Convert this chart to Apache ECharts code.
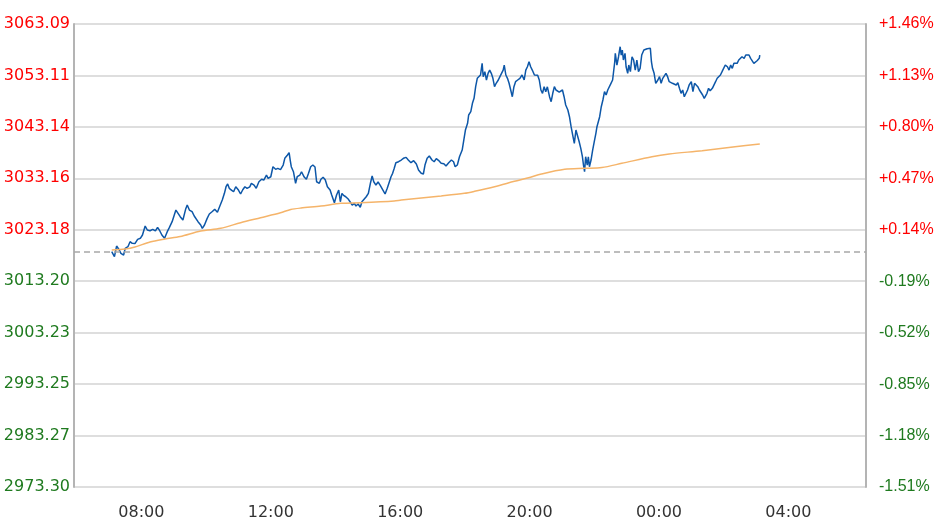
<!DOCTYPE html>
<html>
<head>
<meta charset="utf-8">
<title>分时走势</title>
<script src="https://cdn.jsdelivr.net/npm/echarts@6/dist/echarts.min.js"></script>
<style>
  html, body { margin: 0; padding: 0; background: #fff; }
  #chart { width: 942px; height: 527px; }
</style>
</head>
<body>
<div id="chart"></div>
<script>
// 时间：从第一天 00:00 起的分钟数（跨过午夜后继续累加）
const times = [
  425,430,434,439,442,447,450,455,459,463,
  468,473,478,482,487,491,496,501,506,510,
  514,518,523,528,532,537,541,544,548,552,
  557,562,565,569,574,578,581,585,590,593,
  597,602,606,611,616,621,625,630,634,637,
  640,643,647,651,655,660,664,668,672,676,
  681,684,689,693,698,703,707,712,715,720,
  724,729,733,738,743,746,751,754,756,758,
  762,766,769,774,777,782,786,790,794,798,
  802,805,810,813,817,821,825,830,833,838,
  842,846,849,852,855,859,864,867,871,875,
  878,882,886,889,892,897,901,905,908,911,
  915,919,923,928,932,936,940,943,946,949,
  952,957,962,966,971,975,980,985,990,994,
  999,1003,1006,1010,1014,1019,1023,1027,1031,1036,
  1041,1045,1050,1055,1059,1062,1066,1070,1075,1078,
  1081,1085,1087,1091,1094,1097,1100,1103,1106,1109,
  1112,1114,1117,1120,1123,1126,1129,1132,1135,1138,
  1142,1145,1148,1151,1153,1156,1159,1162,1165,1168,
  1171,1174,1178,1182,1186,1190,1193,1196,1199,1202,
  1205,1209,1212,1215,1218,1221,1224,1227,1230,1233,
  1237,1240,1243,1246,1249,1252,1255,1258,1261,1264,
  1267,1271,1274,1277,1280,1283,1286,1289,1292,1295,
  1298,1300,1302,1304,1307,1309,1311,1314,1317,1320,
  1323,1325,1330,1333,1336,1339,1342,1345,1348,1351,
  1354,1358,1359,1362,1365,1368,1370,1372,1374,1377,
  1379,1382,1384,1387,1390,1393,1396,1399,1402,1405,
  1408,1412,1414,1418,1421,1424,1426,1428,1431,1434,
  1438,1441,1444,1447,1450,1453,1456,1459,1462,1465,
  1468,1472,1475,1478,1481,1484,1487,1490,1493,1496,
  1500,1503,1506,1509,1512,1515,1518,1521,1524,1526,
  1529,1532,1535,1539,1542,1545,1548,1551,1554,1557,
  1560,1563,1567,1570,1573,1576,1579,1582,1585,1588,
  1591,1594,1598,1601,1604,1607,1610,1613,1616,1619,
  1622,1626,1627
];

// 价格
const prices = [
  3018.93,3017.96,3020.03,3019.26,3018.62,3018.29,3019.59,3019.90,3020.87,3020.56,
  3020.50,3021.33,3021.53,3022.17,3023.91,3023.14,3023.00,3023.27,3022.95,3023.66,
  3023.00,3022.17,3021.53,3022.81,3023.66,3024.75,3026.05,3027.01,3026.37,3025.72,
  3025.08,3027.15,3027.98,3027.01,3026.69,3025.85,3026.05,3024.75,3024.11,3023.47,
  3024.11,3025.40,3026.24,3026.69,3027.15,3026.60,3027.65,3028.95,3030.25,3031.53,
  3032.06,3031.22,3030.89,3030.56,3031.53,3030.89,3030.12,3030.95,3031.53,3031.22,
  3031.50,3032.19,3031.86,3031.22,3032.50,3032.97,3032.83,3033.80,3033.16,3033.47,
  3035.41,3034.91,3035.10,3034.85,3035.74,3037.04,3037.68,3038.13,3036.71,3035.41,
  3034.44,3032.19,3033.47,3033.80,3034.44,3033.40,3032.97,3034.13,3035.41,3035.74,
  3035.35,3032.50,3032.19,3032.97,3033.36,3032.90,3031.53,3030.89,3029.92,3028.43,
  3029.92,3030.89,3028.62,3030.25,3029.85,3029.59,3029.09,3028.62,3027.98,3028.31,
  3027.79,3028.18,3027.54,3028.62,3028.31,3029.59,3030.25,3032.31,3033.61,3032.50,
  3031.86,3032.45,3031.80,3030.89,3030.12,3031.22,3032.50,3033.47,3034.13,3035.10,
  3036.19,3036.38,3036.71,3037.04,3037.23,3036.71,3036.19,3036.58,3035.93,3034.77,
  3034.13,3034.00,3035.74,3037.04,3037.49,3036.71,3036.38,3036.98,3036.65,3036.07,
  3036.00,3035.55,3036.19,3036.71,3036.38,3035.41,3035.74,3037.35,3038.65,3040.59,
  3042.53,3043.83,3045.44,3046.08,3047.71,3048.68,3050.93,3052.56,3052.23,3053.20,
  3055.46,3052.87,3053.84,3052.23,3053.52,3054.16,3053.52,3052.56,3050.93,3051.59,
  3052.23,3052.87,3053.52,3054.16,3055.13,3053.20,3052.56,3051.59,3050.29,3048.99,
  3050.93,3051.90,3052.23,3052.56,3053.20,3052.23,3054.16,3054.80,3055.77,3054.80,
  3054.16,3053.20,3052.87,3053.15,3052.23,3050.29,3049.65,3050.93,3049.96,3050.90,
  3048.99,3048.02,3049.65,3050.93,3050.29,3049.96,3049.90,3049.65,3050.29,3048.99,
  3047.38,3046.41,3045.11,3043.17,3041.56,3039.95,3042.53,3042.86,3040.26,3038.98,
  3037.35,3035.74,3034.44,3037.35,3035.74,3037.35,3035.41,3036.71,3038.65,3040.26,
  3041.89,3043.17,3045.11,3047.05,3048.35,3049.96,3049.32,3050.29,3049.96,3051.59,
  3052.23,3055.77,3057.40,3055.13,3056.74,3058.68,3057.07,3058.04,3056.10,3057.40,
  3054.80,3053.52,3055.13,3053.84,3056.74,3056.10,3054.16,3056.10,3053.84,3054.49,
  3057.07,3058.04,3058.37,3058.30,3058.68,3058.37,3055.77,3054.49,3053.52,3051.59,
  3052.23,3052.87,3051.59,3052.56,3052.23,3053.52,3052.87,3051.90,3052.23,3051.59,
  3051.90,3051.26,3051.70,3050.62,3049.65,3050.29,3048.99,3049.32,3050.29,3051.26,
  3051.90,3049.96,3051.59,3051.90,3050.93,3050.29,3050.62,3049.32,3048.68,3048.35,
  3049.65,3050.62,3050.15,3050.62,3050.29,3051.90,3052.56,3052.87,3053.20,3053.84,
  3054.16,3055.13,3054.80,3054.16,3055.13,3054.49,3055.46,3055.77,3055.46,3056.10,
  3056.05,3056.74,3056.43,3057.07,3056.74,3057.07,3056.43,3056.10,3055.46,3055.77,
  3055.97,3056.43,3057.07
];

// 均价线
const avgTimes = [
  425,450,468,496,524,552,590,627,664,701,738,757,776,813,850,887,949,962,
  999,1036,1079,1098,1135,1172,1198,1222,1265,1302,1334,1371,1427,1459,1520,1581,1627
];
const avgPrices = [
  3019.26,3019.45,3019.84,3020.81,3021.39,3021.88,3022.94,3023.47,3024.55,3025.52,
  3026.49,3027.11,3027.40,3027.79,3028.31,3028.43,3028.76,3028.95,3029.34,3029.73,
  3030.25,3030.64,3031.53,3032.58,3033.28,3034.00,3034.91,3035.10,3035.26,3036.07,
  3037.35,3037.88,3038.52,3039.29,3039.82
];

const basePrice = 3018.93; // 昨收

// 坐标轴刻度
const priceLabels = ['2973.30','2983.27','2993.25','3003.23','3013.20','3023.18','3033.16','3043.14','3053.11','3063.09'];
const pctLabels = ['-1.51%','-1.18%','-0.85%','-0.52%','-0.19%','+0.14%','+0.47%','+0.80%','+1.13%','+1.46%'];
const timeTicks = [480, 720, 960, 1200, 1440, 1680];
const timeRange = [355, 1824];

const yMin = 2973.30, yMax = 3063.09;
const yStep = (yMax - yMin) / (priceLabels.length - 1);

const UP = '#ff0000', DOWN = '#1f7a1f';

function tickIndex(v) {
  return Math.round((v - yMin) / yStep);
}
function tickColor(v) {
  return v > basePrice ? UP : DOWN;
}
function fmtTime(m) {
  let h = Math.floor(m / 60) % 24;
  return (h < 10 ? '0' + h : '' + h) + ':00';
}

const chart = echarts.init(document.getElementById('chart'));

chart.setOption({
  animation: false,
  backgroundColor: '#fff',
  grid: { left: 74, right: 76, top: 24, bottom: 40 },
  xAxis: {
    type: 'value',
    min: timeRange[0],
    max: timeRange[1],
    axisLine: { show: false },
    axisTick: { show: false },
    splitLine: { show: false },
    axisLabel: {
      customValues: timeTicks,
      formatter: fmtTime,
      color: '#333',
      fontFamily: 'DejaVu Sans',
      fontSize: 16,
      margin: 18
    }
  },
  yAxis: [
    {
      type: 'value',
      position: 'left',
      min: yMin,
      max: yMax,
      interval: yStep,
      axisLine: { show: true, lineStyle: { color: '#b4b4b4', width: 2 } },
      axisTick: { show: false },
      splitLine: { show: true, lineStyle: { color: '#dedede', width: 2 } },
      axisLabel: {
        formatter: v => priceLabels[tickIndex(v)],
        color: v => tickColor(v),
        fontFamily: 'DejaVu Sans',
        fontSize: 16,
        margin: 4,
        padding: [4, 0, 0, 0]
      }
    },
    {
      type: 'value',
      position: 'right',
      min: yMin,
      max: yMax,
      interval: yStep,
      axisLine: { show: true, lineStyle: { color: '#b4b4b4', width: 2 } },
      axisTick: { show: false },
      splitLine: { show: false },
      axisLabel: {
        formatter: v => pctLabels[tickIndex(v)],
        color: v => tickColor(v),
        fontFamily: 'Liberation Sans',
        fontSize: 16,
        margin: 13,
        padding: [4, 0, 0, 0]
      }
    }
  ],
  series: [
    {
      name: '价格',
      type: 'line',
      data: times.map((t, i) => [t, prices[i]]),
      showSymbol: false,
      lineStyle: { color: '#0d57a8', width: 1.5 },
      itemStyle: { color: '#0d57a8' },
      markLine: {
        silent: true,
        symbol: 'none',
        label: { show: false },
        lineStyle: { color: '#a8a8a8', type: [6, 4], width: 1.5 },
        data: [{ yAxis: basePrice }]
      }
    },
    {
      name: '均价',
      type: 'line',
      data: avgTimes.map((t, i) => [t, avgPrices[i]]),
      showSymbol: false,
      smooth: 0.3,
      lineStyle: { color: '#f5b46a', width: 1.5 },
      itemStyle: { color: '#f5b46a' }
    }
  ]
});
</script>
</body>
</html>
